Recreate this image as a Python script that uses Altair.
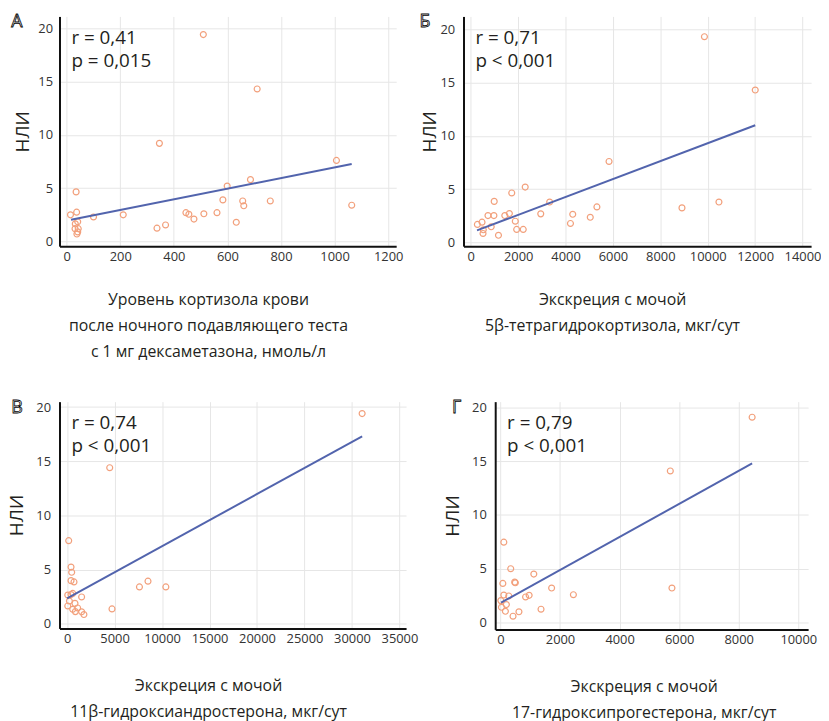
import altair as alt
import pandas as pd

FONT = "Open Sans"
POINT_COLOR = "#f2a07c"
LINE_COLOR = "#5264ad"
TEXT_COLOR = "#231f20"

# Panel А
a_x = [510, 711, 346, 1007, 686, 599, 35, 583, 657, 760, 661, 1064, 37, 445, 456, 561, 512, 211, 14, 100,
       475, 633, 369, 337, 41, 32, 31, 43, 41, 38]
a_y = [19.4, 14.3, 9.2, 7.6, 5.8, 5.2, 4.65, 3.9, 3.8, 3.8, 3.35, 3.4, 2.75, 2.7, 2.55, 2.7, 2.6, 2.5, 2.5, 2.3,
       2.1, 1.8, 1.55, 1.25, 1.85, 1.65, 1.2, 1.2, 0.9, 0.7]
a_line_x = [16, 1064]
a_line_y = [2.04, 7.26]

# Panel Б
b_x = [9861, 12006, 5836, 2298, 1730, 990, 10474, 3330, 5324, 8914, 2954, 4304, 1630, 1437, 977, 727, 5044,
       1880, 4208, 476, 280, 864, 530, 518, 1938, 2215, 1170]
b_y = [19.3, 14.3, 7.6, 5.2, 4.65, 3.86, 3.8, 3.8, 3.34, 3.25, 2.69, 2.65, 2.72, 2.53, 2.53, 2.53, 2.37,
       2.0, 1.79, 1.91, 1.7, 1.48, 1.2, 0.85, 1.23, 1.23, 0.68]
b_line_x = [265, 12006]
b_line_y = [1.14, 11.0]

# Panel В
c_x = [31072, 4489, 170, 414, 484, 414, 727, 70, 414, 590, 1530, 240, 830, 70, 590, 1110, 870, 1530, 1770,
       4730, 7620, 8520, 10400]
c_y = [19.4, 14.4, 7.67, 5.23, 4.75, 3.98, 3.86, 2.65, 2.7, 2.8, 2.47, 2.1, 1.88, 1.64, 1.33, 1.46, 1.12, 1.1,
       0.85, 1.37, 3.4, 3.93, 3.4]
c_line_x = [0, 31072]
c_line_y = [2.34, 17.3]

# Panel Г
d_x = [8450, 5703, 5758, 113, 345, 1120, 80, 478, 500, 1718, 2449, 113, 279, 844, 963, 13, 199, 33, 166, 621,
       1362, 422]
d_y = [19.1, 14.1, 3.2, 7.47, 5.0, 4.5, 3.63, 3.75, 3.69, 3.2, 2.58, 2.55, 2.46, 2.37, 2.52, 2.03, 1.66, 1.41,
       1.04, 0.99, 1.23, 0.58]
d_line_x = [22, 8450]
d_line_y = [1.84, 14.8]

y_ticks = [0, 5, 10, 15, 20]


def panel(px, py, lx, ly, xdom, ydom, xticks, width, height, xtitle, stats, letter,
          lpad, ytpad, letter_x, xtpad):
    df = pd.DataFrame({"x": px, "y": py})
    ldf = pd.DataFrame({"x": lx, "y": ly})
    xs = alt.Scale(domain=xdom, nice=False, zero=False)
    ys = alt.Scale(domain=ydom, nice=False, zero=False)
    xaxis = alt.Axis(values=xticks, title=xtitle, format="d", titlePadding=xtpad, labelPadding=4,
                     titleLineHeight=26, titleX=150, titleAlign="center")
    yaxis = alt.Axis(values=y_ticks, title="НЛИ", titlePadding=ytpad, labelPadding=lpad)
    pts = alt.Chart(df).mark_point(shape="circle", filled=False, color=POINT_COLOR, size=36,
                                   strokeWidth=1.2, opacity=1).encode(
        x=alt.X("x:Q", scale=xs, axis=xaxis),
        y=alt.Y("y:Q", scale=ys, axis=yaxis),
    )
    line = alt.Chart(ldf).mark_line(color=LINE_COLOR, strokeWidth=2).encode(
        x=alt.X("x:Q", scale=xs), y=alt.Y("y:Q", scale=ys))
    txt = alt.Chart(pd.DataFrame({"k": [0]})).mark_text(
        text=stats, align="left", baseline="top", fontSize=19, lineHeight=23,
        font=FONT, color=TEXT_COLOR).encode(x=alt.value(12), y=alt.value(13))
    let = alt.Chart(pd.DataFrame({"k": [0]})).mark_text(
        text=letter, align="center", baseline="middle", fontSize=18, font=FONT,
        fill="white", stroke="black", strokeWidth=0.8).encode(
        x=alt.value(letter_x), y=alt.value(6))
    return alt.layer(pts, line, txt, let).properties(width=width, height=height)


pa = panel(a_x, a_y, a_line_x, a_line_y, [-27, 1230], [-0.44, 21.1], [0, 200, 400, 600, 800, 1000, 1200],
           340, 232, ["Уровень кортизола крови", "после ночного подавляющего теста",
                      "с 1 мг дексаметазона, нмоль/л"], ["r = 0,41", "p = 0,015"], "А", 7, 5, -43, 29)
pb = panel(b_x, b_y, b_line_x, b_line_y, [-305, 14363], [-0.34, 21.2],
           [0, 2000, 4000, 6000, 8000, 10000, 12000, 14000],
           351, 232, ["Экскреция с мочой", "5β-тетрагидрокортизола, мкг/сут"],
           ["r = 0,71", "p < 0,001"], "Б", 9, 0, -39, 29)
pc = panel(c_x, c_y, c_line_x, c_line_y, [-800, 35700], [-0.43, 20.5],
           [0, 5000, 10000, 15000, 20000, 25000, 30000, 35000],
           350, 229, ["Экскреция с мочой", "11β-гидроксиандростерона, мкг/сут"],
           ["r = 0,74", "p < 0,001"], "В", 9, 9, -43, 33)
pd_ = panel(d_x, d_y, d_line_x, d_line_y, [-176, 10330], [-0.65, 20.55],
            [0, 2000, 4000, 6000, 8000, 10000],
            316, 230, ["Экскреция с мочой", "17-гидроксипрогестерона, мкг/сут"],
            ["r = 0,79", "p < 0,001"], "Г", 9, 9, -39, 33)

row1 = alt.hconcat(pa, pb, spacing=16)
row2 = alt.hconcat(pc, pd_, spacing=26)

chart = alt.vconcat(row1, row2, spacing=40).properties(
    padding={"left": 0, "top": 2, "right": 0, "bottom": 0}
).configure_view(strokeOpacity=0).configure_axis(
    domainColor="#111111", domainWidth=2, gridColor="#e6e6e6", gridWidth=1, ticks=False,
    labelFont=FONT, labelFontSize=13, labelColor="#333333",
    titleFont=FONT, titleFontWeight="normal", titleColor=TEXT_COLOR,
).configure_axisX(titleFontSize=16).configure_axisY(titleFontSize=19)

chart.save("out.html", embed_options={"renderer": "svg", "actions": False})
